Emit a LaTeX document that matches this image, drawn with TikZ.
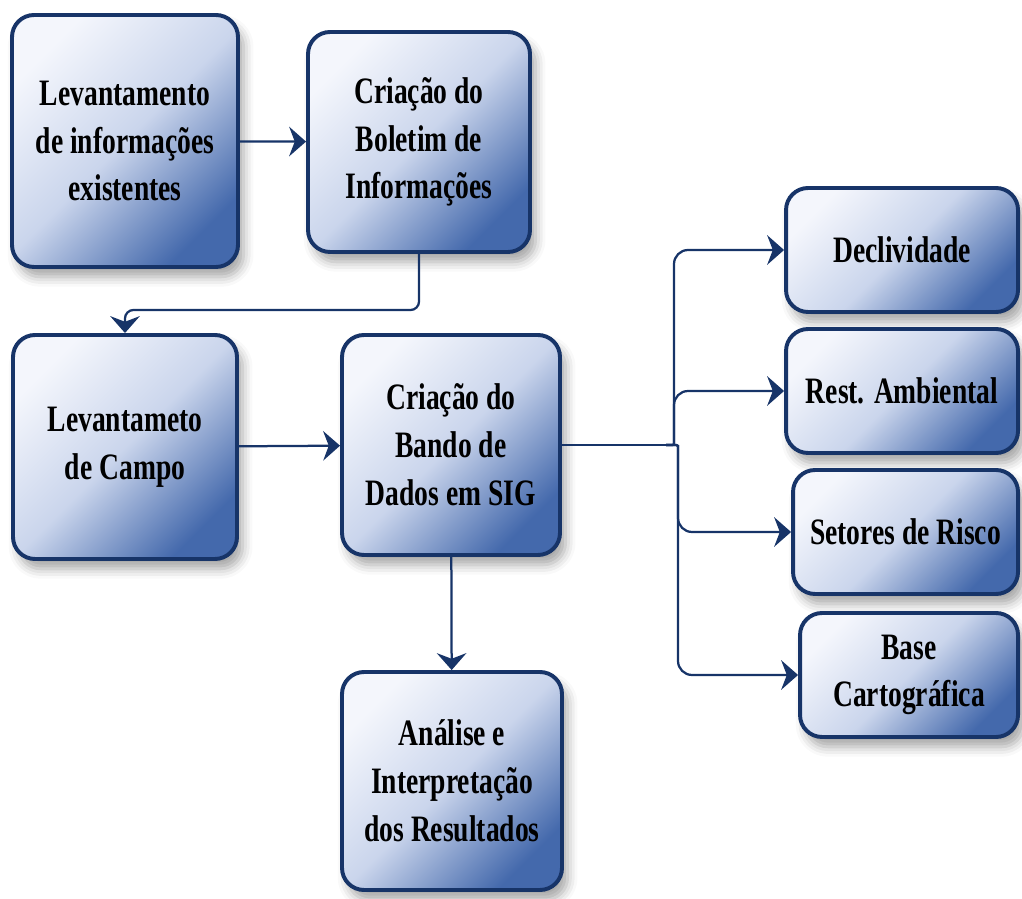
\documentclass[tikz,border=0pt]{standalone}
\usepackage{fontspec}
\setmainfont{Liberation Serif}[FakeStretch=0.74]
\usetikzlibrary{arrows.meta,shadows.blur}
\definecolor{navy}{HTML}{173468}
\definecolor{boxlight}{HTML}{F4F6FC}
\definecolor{boxmid}{HTML}{CAD5EC}
\definecolor{boxdark}{HTML}{4469AC}
\tikzset{
  flow/.style={draw=navy, line width=2.8pt, rounded corners=0.55cm, top color=boxlight, bottom color=boxdark, middle color=boxmid, shading angle=45, blur shadow={shadow xshift=4pt, shadow yshift=-7pt, shadow blur radius=7pt, shadow opacity=35}, align=center, inner sep=0pt, font=\bfseries\fontsize{26.5}{34}\selectfont},
  conn/.style={draw=navy, line width=1.6pt, -{Stealth[length=12pt,width=21pt,inset=4pt]}}
}
\begin{document}
\begin{tikzpicture}[x=0.025cm,y=-0.025cm]
\useasboundingbox (0,0) rectangle (1022,899);
\node[flow, minimum width=226*0.025cm, minimum height=252*0.025cm] (info) at (125,141) {Levantamento\\de informações\\existentes};
\node[flow, minimum width=222*0.025cm, minimum height=220*0.025cm] (boletim) at (419,142) {Criação do\\Boletim de\\Informações};
\node[flow, minimum width=224*0.025cm, minimum height=224*0.025cm] (campo) at (125,447) {Levantameto\\de Campo};
\node[flow, minimum width=218*0.025cm, minimum height=220*0.025cm] (bando) at (451,445) {Criação do\\Bando de\\Dados em SIG};
\node[flow, minimum width=220*0.025cm, minimum height=218*0.025cm] (analise) at (452,781) {Análise e\\Interpretação\\dos Resultados};
\foreach \n/\y/\w/\t in {decl/250/232/Declividade, rest/391/232/{Rest. Ambiental}, setor/532/225/{Setores de Risco}, base/675/218/{Base\\Cartográfica}}{
	\node[flow, anchor=east, minimum width=\w*0.025cm, minimum height=124*0.025cm] (\n) at (1020,\y) {\t};}
\coordinate (fork) at (666,445);
\draw[conn] (info) -- (boletim);
\draw[conn, rounded corners=6pt] (boletim.south) |- (125,310) -- (campo.north);
\draw[conn] (campo) -- (bando);
\draw[conn] (bando) -- (analise);
\draw[navy, line width=1.6pt] (bando.east) -- (fork);
\foreach \n in {decl,rest}{
	\draw[conn, rounded corners=10pt] (fork) .. controls (674,445) .. (674,430) |- (\n.west);}
\foreach \n in {setor,base}{
	\draw[conn, rounded corners=10pt] (fork) .. controls (678,445) .. (678,460) |- (\n.west);}
\end{tikzpicture}
\end{document}
